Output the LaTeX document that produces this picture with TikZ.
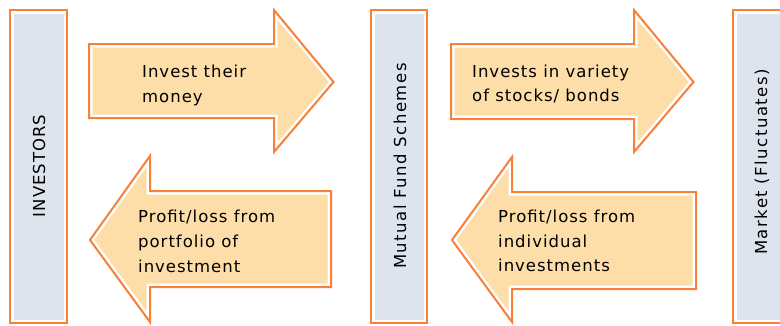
\documentclass[tikz,border=0pt]{standalone}
\usepackage{fontspec}
\newfontfamily\lblfont[LetterSpace=6]{DejaVu Sans}
\newfontfamily\lblwidefont[LetterSpace=9]{DejaVu Sans}
\definecolor{orline}{RGB}{249,128,56}
\definecolor{peach}{RGB}{253,222,168}
\definecolor{barblue}{RGB}{221,228,238}
\begin{document}
\begin{tikzpicture}[x=1pt,y=-1pt,
  lbl/.style={inner sep=0pt,font=\lblfont\fontsize{16.5}{25}\selectfont,text=black},
  rot/.style={lbl,rotate=90,anchor=center}]
\useasboundingbox (0,0) rectangle (780,325);
\clip (0,0) rectangle (780,325);
% shape helper: fill, white inner band, orange outline
\newcommand{\dshape}[2]{%
  \fill[#1] #2;
  \draw[white,line width=7pt,line join=miter] #2;
  \draw[orline,line width=2pt,line join=miter] #2;}
% bars
\dshape{barblue}{(10,10) rectangle (67,323)}
\dshape{barblue}{(371,10) rectangle (427,323)}
\dshape{barblue}{(733,10) rectangle (800,323)}
% arrows
\dshape{peach}{(89,44) -- (274,44) -- (274,10) -- (333.5,82) -- (274,152) -- (274,118) -- (89,118) -- cycle}
\dshape{peach}{(90,240) -- (150,156) -- (150,191) -- (331,191) -- (331,287) -- (150,287) -- (150,322) -- cycle}
\dshape{peach}{(451,44) -- (634,44) -- (634,10) -- (693.5,82) -- (634,152) -- (634,119) -- (451,119) -- cycle}
\dshape{peach}{(452,240) -- (512,157) -- (512,192) -- (696,192) -- (696,289) -- (512,289) -- (512,322) -- cycle}
% bar labels
\node[rot] (inv) at (39,166) {INVESTORS};
\node[rot,font=\lblwidefont\fontsize{16.5}{25}\selectfont] (mfs) at (400,166) {Mutual Fund Schemes};
\node[rot,font=\lblwidefont\fontsize{16.5}{25}\selectfont] (mkt) at (762,162) {Market (Fluctuates)};
% arrow labels
\node[lbl,anchor=base west] (a1l1) at (142,77) {Invest their};
\node[lbl,anchor=base west] (a1l2) at (142,102) {money};
\node[lbl,anchor=base west] (b1l1) at (138,222) {Profit/loss from};
\node[lbl,anchor=base west] (b1l2) at (138,247) {portfolio of};
\node[lbl,anchor=base west] (b1l3) at (138,272) {investment};
\node[lbl,anchor=base west] (a2l1) at (472,77) {Invests in variety};
\node[lbl,anchor=base west] (a2l2) at (472,101) {of stocks/ bonds};
\node[lbl,anchor=base west] (b2l1) at (498,222) {Profit/loss from};
\node[lbl,anchor=base west] (b2l2) at (498,247) {individual};
\node[lbl,anchor=base west] (b2l3) at (498,271) {investments};
\end{tikzpicture}
\end{document}
